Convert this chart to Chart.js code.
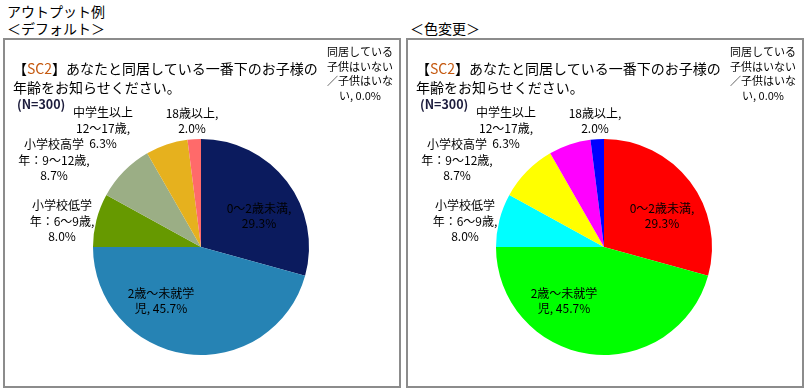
<!DOCTYPE html>
<html lang="ja">
<head>
<meta charset="utf-8">
<script src="https://cdn.jsdelivr.net/npm/chart.js@4.4.1/dist/chart.umd.min.js"></script>
<style>
  body { margin: 0; width: 807px; height: 390px; background: #fff; position: relative; overflow: hidden;
         font-family: "Noto Sans CJK JP", "Noto Sans", sans-serif; color: #000; }
  .head { position: absolute; font-size: 14px; line-height: 18px; white-space: nowrap; }
  .box { position: absolute; top: 38px; width: 398px; height: 350px; box-sizing: border-box;
         border: 2px solid #8c8c8c; background: #fff; }
  .box canvas { position: absolute; left: 0; top: 0; }
  .title { position: absolute; left: 8px; top: 19px; font-size: 14px; line-height: 19px; white-space: nowrap; }
  .title .sc { color: #c55a11; }
  .n { position: absolute; left: 12px; top: 54px; font-size: 12.5px; font-weight: bold; color: #1c1c3c; }
</style>
</head>
<body>
<div class="head" style="left:7px; top:2px;">アウトプット例</div>
<div class="head" style="left:7px; top:19px;">＜デフォルト＞</div>
<div class="head" style="left:410px; top:19px;">＜色変更＞</div>

<div class="box" style="left:3px;">
  <canvas id="pieDefault" width="394" height="346"></canvas>
  <div class="title">【<span class="sc">SC2</span>】あなたと同居している一番下のお子様の<br>年齢をお知らせください。</div>
  <div class="n">(N=300)</div>
</div>
<div class="box" style="left:406px;">
  <canvas id="pieColor" width="394" height="346"></canvas>
  <div class="title">【<span class="sc">SC2</span>】あなたと同居している一番下のお子様の<br>年齢をお知らせください。</div>
  <div class="n">(N=300)</div>
</div>

<script>
// categories, split into the lines shown on the labels
const categories = [
  ["0〜2歳未満"],
  ["2歳〜未就学", "児"],
  ["小学校低学", "年：6〜9歳"],
  ["小学校高学", "年：9〜12歳"],
  ["中学生以上", "12〜17歳"],
  ["18歳以上"],
  ["同居している", "子供はいない", "／子供はいな", "い"],
];
const shares = [29.3, 45.7, 8.0, 8.7, 6.3, 2.0, 0.0];

const defaultColors = ["#0b1b5e", "#2683b4", "#669900", "#9bae85", "#e6b11e", "#ff6a6a", "#7f7f7f"];
const changedColors = ["#ff0000", "#00ff00", "#00ffff", "#ffff00", "#ff00ff", "#0000ff", "#7f7f7f"];

// label block centre relative to pie centre (px), font size
const labelPos = [
  [58, -31], [-40, 54], [-139, -26], [-147, -87], [-98, -119], [-9, -126], [159, -173],
];
const labelSize = [12, 12, 12, 12, 12, 12, 11];

const LINE_H = 15.5;

const dataLabels = {
  id: "dataLabels",
  afterDatasetsDraw(chart) {
    const ctx = chart.ctx;
    const arc = chart.getDatasetMeta(0).data[0];
    const cx = arc.x, cy = arc.y;
    ctx.save();
    ctx.fillStyle = "#000";
    ctx.textAlign = "center";
    ctx.textBaseline = "middle";
    chart.data.labels.forEach((lab, i) => {
      const lines = lab.slice();
      const pct = shares[i].toFixed(1) + "%";
      // Excel style: "category, value" wrapped
      if (lines.length === 1) {
        lines[0] = lines[0] + ",";
        lines.push(pct);
      } else if (i === 1 || i === 6) {
        lines[lines.length - 1] = lines[lines.length - 1] + ", " + pct;
      } else {
        lines[lines.length - 1] = lines[lines.length - 1] + ",";
        lines.push(pct);
      }
      ctx.font = labelSize[i] + 'px "Noto Sans CJK JP", sans-serif';
      const lh = i === 6 ? 14.5 : LINE_H;
      const [dx, dy] = labelPos[i];
      const y0 = cy + dy - (lines.length - 1) * lh / 2;
      lines.forEach((t, k) => ctx.fillText(t, cx + dx, y0 + k * lh));
    });
    ctx.restore();
  },
};

function makePie(id, colors) {
  return new Chart(document.getElementById(id), {
    type: "pie",
    data: {
      labels: categories,
      datasets: [{ data: shares, backgroundColor: colors, borderWidth: 0 }],
    },
    options: {
      responsive: false,
      animation: false,
      devicePixelRatio: 1,
      layout: { padding: { left: 88, right: 90, top: 99, bottom: 31 } },
      plugins: { legend: { display: false }, tooltip: { enabled: false }, title: { display: false } },
    },
    plugins: [dataLabels],
  });
}

makePie("pieDefault", defaultColors);
makePie("pieColor", changedColors);
</script>
</body>
</html>
